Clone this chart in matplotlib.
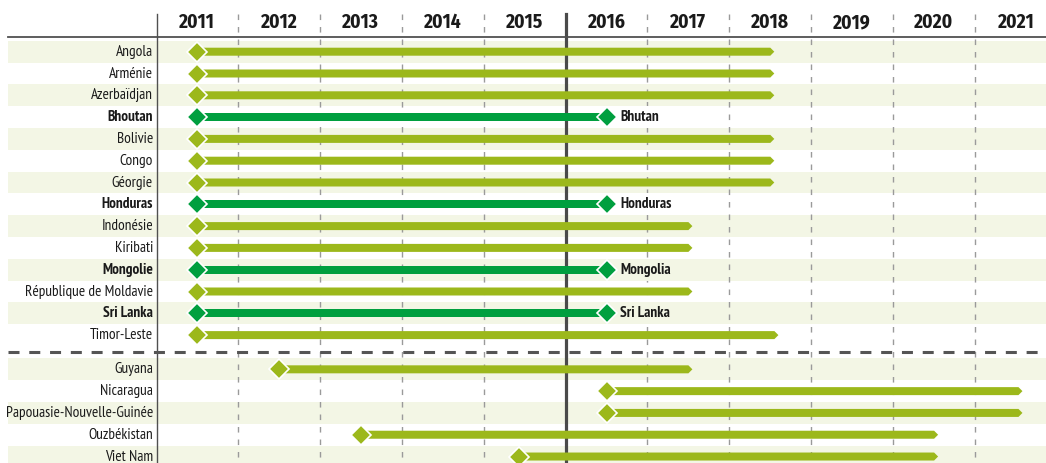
import matplotlib
matplotlib.use("Agg")
import matplotlib.pyplot as plt
from matplotlib.patches import Polygon, Rectangle

# ---------------- data ----------------
years = [2011, 2012, 2013, 2014, 2015, 2016, 2017, 2018, 2019, 2020, 2021]

group1 = ["Angola", "Arménie", "Azerbaïdjan", "Bhoutan", "Bolivie", "Congo",
          "Géorgie", "Honduras", "Indonésie", "Kiribati", "Mongolie",
          "République de Moldavie", "Sri Lanka", "Timor-Leste"]
group1_start = [2011] * 14
group1_end = [2018, 2018, 2018, 2016, 2018, 2018, 2018, 2016, 2017, 2017,
              2016, 2017, 2016, 2018.05]

group2 = ["Guyana", "Nicaragua", "Papouasie-Nouvelle-Guinée", "Ouzbékistan", "Viet Nam"]
group2_start = [2012, 2016, 2016, 2013, 2014.93]
group2_end = [2017, 2021.03, 2021.03, 2020, 2020]

graduated = {"Bhoutan": "Bhutan", "Honduras": "Honduras",
             "Mongolie": "Mongolia", "Sri Lanka": "Sri Lanka"}

current_year_line = 2015.5

# ---------------- style ----------------
LIGHT = "#9cb81b"
DARK = "#009f3f"
BAND = "#f3f6e5"
GRID = "#9a9a9a"
LINE = "#505050"
TXT = "#1a1a1a"

plt.rcParams["font.family"] = ["Fira Sans Condensed", "Roboto Condensed",
                               "PT Sans Narrow", "DejaVu Sans"]
LABEL_FONT = ["PT Sans Narrow", "Fira Sans Condensed", "DejaVu Sans"]

W, H = 1046, 463
fig = plt.figure(figsize=(W / 100, H / 100), dpi=100)
ax = fig.add_axes([0, 0, 1, 1])
ax.set_axis_off()

PX_X = 81.9   # px per year
PX_Y = 21.8   # px per row
X0, Y0 = 197, 51.7
ax.set_xlim(2011 - X0 / PX_X, 2011 + (W - X0) / PX_X)
ax.set_ylim((H - Y0) / PX_Y, -Y0 / PX_Y)


def px2x(px):
    return 2011 + (px - X0) / PX_X


def px2y(py):
    return (py - Y0) / PX_Y


# rows
gap = 1.57
names = group1 + group2
starts = group1_start + group2_start
ends = group1_end + group2_end
rows = list(range(len(group1))) + [len(group1) - 1 + gap + k for k in range(len(group2))]
banded = [i % 2 == 0 for i in range(len(group1))] + [k % 2 == 0 for k in range(len(group2))]

left_px = 8
xmin_frac = left_px / W
top_line = px2y(14)
bottom = px2y(H + 2)

# bands
for r, b in zip(rows, banded):
    if b:
        ax.axhspan(r - 0.5, r + 0.5, xmin=xmin_frac, xmax=1, color=BAND, lw=0, zorder=0)

# header line
ax.axhline(px2y(36.5), xmin=xmin_frac, xmax=1, color=LINE, lw=1.3, zorder=2)

# left axis line
xl = px2x(157.3)
ax.plot([xl, xl], [top_line, bottom], color=LINE, lw=1.0, zorder=2)

# grid lines
for y in years[:-1]:
    xg = y + 0.5
    if xg == current_year_line:
        continue
    ax.plot([xg, xg], [top_line, bottom], color=GRID, lw=1.0, zorder=1,
            linestyle=(0, (4, 5)))
ax.plot([current_year_line, current_year_line], [top_line, bottom], color="#4a4a4a",
        lw=2.3, zorder=1)

# separator
sep = len(group1) - 1 + 0.79
ax.axhline(sep, xmin=xmin_frac, xmax=1, color="#555555", lw=2.2,
           linestyle=(0, (3.6, 3.2)), zorder=2)

# year labels
for y in years:
    ax.text(y, px2y(22.5), str(y), ha="center", va="center", fontsize=14,
            fontweight="bold", color=TXT, zorder=5)

# bars
h = 4.0 / PX_Y
tip = 4.0 / PX_X
for name, r, s, e, b in zip(names, rows, starts, ends, banded):
    done = name in graduated
    col = DARK if done else LIGHT
    if done:
        pts = [(s, r - h), (e, r - h), (e, r + h), (s, r + h)]
    else:
        pts = [(s, r - h), (e, r - h), (e + tip, r), (e, r + h), (s, r + h)]
    ax.add_patch(Polygon(pts, closed=True, fc=col, ec="none", zorder=3))
    ax.plot([s], [r], marker="D", ms=10, mfc=col, mec="white", mew=1.2, zorder=4)
    if done:
        ax.plot([e], [r], marker="D", ms=10, mfc=col, mec="white", mew=1.2, zorder=4)
        ax.add_patch(Rectangle((px2x(614), r - 0.5), (710 - 614) / PX_X, 1.0,
                               fc=BAND if b else "white", ec="none", zorder=2.5))
        ax.text(px2x(620), r, graduated[name], ha="left", va="center", fontsize=11,
                fontweight="bold", color=TXT, zorder=5, family=LABEL_FONT)
    ax.text(px2x(153), r, name, ha="right", va="center", fontsize=11,
            fontweight="bold" if done else "normal", color=TXT, zorder=5,
            family=LABEL_FONT)

fig.savefig("out.png", dpi=100)
